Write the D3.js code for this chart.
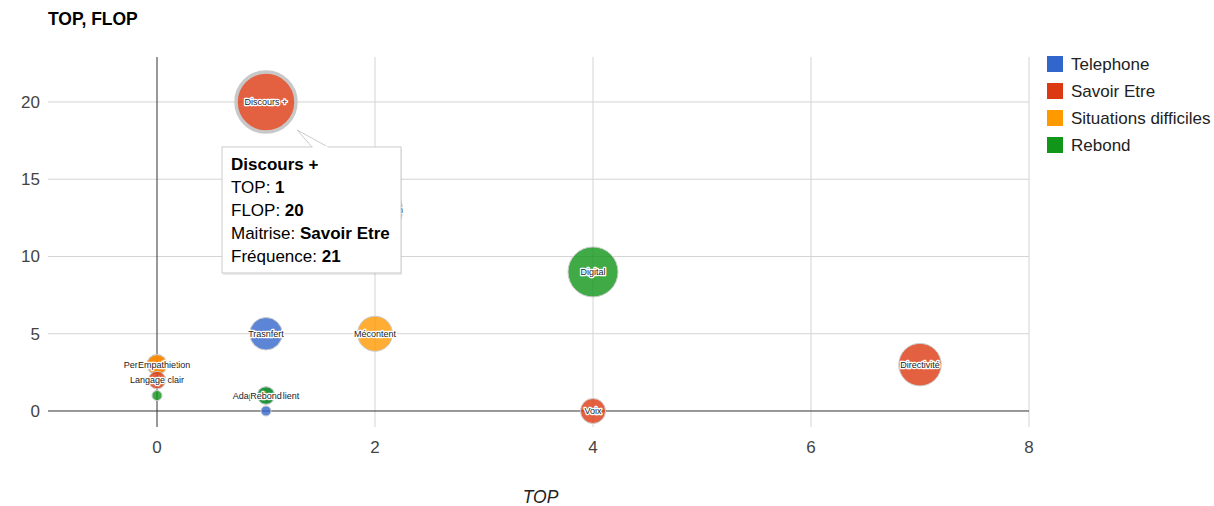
<!DOCTYPE html>
<html>
<head>
<meta charset="utf-8">
<script src="https://cdn.jsdelivr.net/npm/d3@7"></script>
<style>
  body { margin: 0; background: #fff; }
  svg { font-family: Arial, "Liberation Sans", sans-serif; }
</style>
</head>
<body>
<div id="chart-area"></div>
<script>
// bubble data (label, TOP, FLOP, Maitrise, Fréquence)
let names = ["Discours +", "Reformulation", "Digital", "Directivité", "Mécontent", "Trasnfert", "Voix",
	"Personnalisation", "Empathie", "Langage clair", "", "Adaptation client", "Rebond", ""];
let topValues = [1, 2, 4, 7, 2, 1, 4, 0, 0, 0, 0, 1, 1, 1];
let flopValues = [20, 13, 9, 3, 5, 5, 0, 3, 3, 2, 1, 1, 1, 0];
let maitrise = ["Savoir Etre", "Situations difficiles", "Rebond", "Savoir Etre", "Situations difficiles",
	"Telephone", "Savoir Etre", "Savoir Etre", "Situations difficiles", "Savoir Etre", "Rebond",
	"Telephone", "Rebond", "Telephone"];
let frequence = [21, 19, 17, 14, 11, 10, 7, 5, 5, 4, 1, 4, 4, 1];

let categories = ["Telephone", "Savoir Etre", "Situations difficiles", "Rebond"];
let xTicks = [0, 2, 4, 6, 8];
let yTicks = [0, 5, 10, 15, 20];

let data = names.map((n, i) => ({
	name: n, top: topValues[i], flop: flopValues[i], maitrise: maitrise[i], freq: frequence[i], idx: i
}));

drawChart(data);

function drawChart(data) {
	let W = 1214, H = 506;
	let area = {left: 48, right: 1029, top: 57, bottom: 427};

	let svg = d3.select("#chart-area").append("svg")
		.attr("width", W)
		.attr("height", H);

	let xScale = d3.scaleLinear().domain([-1, 8]).range([area.left, area.right]);
	let yScale = d3.scaleLinear().domain([-1.036, 22.91]).range([area.bottom, area.top]);
	let rScale = d3.scaleLinear()
		.domain([d3.min(data, d => d.freq), d3.max(data, d => d.freq)])
		.range([5, 30]);
	let color = d3.scaleOrdinal()
		.domain(categories)
		.range(["#3366cc", "#dc3912", "#ff9900", "#109618"]);

	// title
	svg.append("text")
		.attr("x", 48).attr("y", 25)
		.style("font-size", "17.5px").style("font-weight", "bold").attr("fill", "#000")
		.text("TOP, FLOP");

	// gridlines
	svg.append("g").selectAll("line").data(yTicks.filter(d => d !== 0)).enter()
		.append("line")
		.attr("x1", area.left).attr("x2", area.right)
		.attr("y1", d => yScale(d)).attr("y2", d => yScale(d))
		.attr("stroke", "#d4d4d4").attr("stroke-width", 1);
	svg.append("g").selectAll("line").data(xTicks.filter(d => d !== 0)).enter()
		.append("line")
		.attr("y1", area.top).attr("y2", area.bottom)
		.attr("x1", d => xScale(d)).attr("x2", d => xScale(d))
		.attr("stroke", "#d4d4d4").attr("stroke-width", 1);

	// baselines
	svg.append("line")
		.attr("x1", area.left).attr("x2", area.right)
		.attr("y1", yScale(0)).attr("y2", yScale(0))
		.attr("stroke", "#333").attr("stroke-width", 1);
	svg.append("line")
		.attr("x1", xScale(0)).attr("x2", xScale(0))
		.attr("y1", area.top).attr("y2", area.bottom)
		.attr("stroke", "#333").attr("stroke-width", 1);

	// tick labels
	svg.append("g").selectAll("text").data(yTicks).enter()
		.append("text")
		.attr("x", 40).attr("y", d => yScale(d) + 6)
		.attr("text-anchor", "end")
		.style("font-size", "17px").attr("fill", "#444")
		.text(d => d);
	svg.append("g").selectAll("text").data(xTicks).enter()
		.append("text")
		.attr("x", d => xScale(d)).attr("y", 453)
		.attr("text-anchor", "middle")
		.style("font-size", "17px").attr("fill", "#444")
		.text(d => d);

	// axis title
	svg.append("text")
		.attr("x", (area.left + area.right) / 2 + 2).attr("y", 503)
		.attr("text-anchor", "middle")
		.style("font-size", "17.5px").style("font-style", "italic").attr("fill", "#222")
		.text("TOP");

	// bubbles, biggest first
	let sorted = data.slice().sort((a, b) => (b.freq - a.freq) || (a.idx - b.idx));
	let bubbles = svg.append("g").selectAll(".bubble").data(sorted).enter()
		.append("g").attr("class", "bubble");

	bubbles.append("circle")
		.attr("cx", d => xScale(d.top))
		.attr("cy", d => yScale(d.flop))
		.attr("r", d => rScale(d.freq))
		.attr("fill", d => color(d.maitrise))
		.attr("fill-opacity", 0.8)
		.attr("stroke", d => d.idx === 0 ? "#c8c8c8" : "#ccc")
		.attr("stroke-width", d => d.idx === 0 ? 3.5 : 1);

	bubbles.append("text")
		.attr("x", d => xScale(d.top))
		.attr("y", d => yScale(d.flop) + 3)
		.attr("text-anchor", "middle")
		.style("font-size", "9px")
		.attr("fill", "#222")
		.attr("stroke", "#fff").attr("stroke-width", 2.5).attr("stroke-linejoin", "round")
		.style("paint-order", "stroke")
		.text(d => d.name);

	// legend
	let legend = svg.append("g").selectAll("g").data(categories).enter()
		.append("g")
		.attr("transform", (d, i) => "translate(1047," + (56 + i * 27) + ")");
	legend.append("rect")
		.attr("width", 16).attr("height", 16)
		.attr("fill", d => color(d));
	legend.append("text")
		.attr("x", 24).attr("y", 14)
		.style("font-size", "17px").attr("fill", "#222")
		.text(d => d);

	// tooltip on "Discours +"
	let hot = data[0];
	let hx = xScale(hot.top), hy = yScale(hot.flop);
	let box = {x: hx - 44, y: hy + 45, w: 179, h: 126};
	let tip = svg.append("g");
	tip.append("rect")
		.attr("x", box.x + 1).attr("y", box.y + 2)
		.attr("width", box.w).attr("height", box.h)
		.attr("fill", "#000").attr("fill-opacity", 0.08);
	tip.append("path")
		.attr("d", "M" + (box.x + 90) + "," + box.y + " L" + (hx + 31) + "," + (hy + 28) +
			" L" + (box.x + 106) + "," + box.y + " Z")
		.attr("fill", "#fff").attr("stroke", "#ccc");
	tip.append("rect")
		.attr("x", box.x).attr("y", box.y)
		.attr("width", box.w).attr("height", box.h)
		.attr("fill", "#fff").attr("stroke", "#ccc");
	tip.append("line")
		.attr("x1", box.x + 90.5).attr("x2", box.x + 105.5)
		.attr("y1", box.y).attr("y2", box.y)
		.attr("stroke", "#fff").attr("stroke-width", 2);

	let lines = [
		[["", hot.name, true]],
		[["TOP: ", "", false], ["", String(hot.top), true]],
		[["FLOP: ", "", false], ["", String(hot.flop), true]],
		[["Maitrise: ", "", false], ["", hot.maitrise, true]],
		[["Fréquence: ", "", false], ["", String(hot.freq), true]]
	];
	lines.forEach((parts, i) => {
		let t = tip.append("text")
			.attr("x", box.x + 9).attr("y", box.y + 23 + i * 23)
			.style("font-size", "17px").attr("fill", "#000");
		parts.forEach(p => {
			t.append("tspan")
				.style("font-weight", p[2] ? "bold" : "normal")
				.text(p[0] + p[1]);
		});
	});
}
</script>
</body>
</html>
